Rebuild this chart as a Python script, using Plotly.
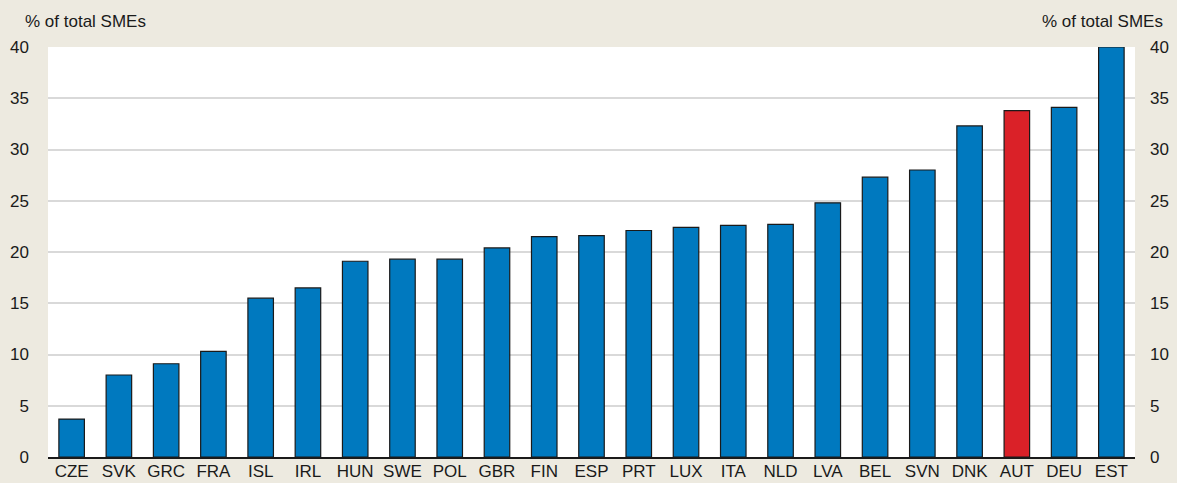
import plotly.graph_objects as go

countries = ["CZE", "SVK", "GRC", "FRA", "ISL", "IRL", "HUN", "SWE", "POL", "GBR", "FIN", "ESP",
             "PRT", "LUX", "ITA", "NLD", "LVA", "BEL", "SVN", "DNK", "AUT", "DEU", "EST"]
values = [3.7, 8.0, 9.1, 10.3, 15.5, 16.5, 19.1, 19.3, 19.3, 20.4, 21.5, 21.6,
          22.1, 22.4, 22.6, 22.7, 24.8, 27.3, 28.0, 32.3, 33.8, 34.1, 40.0]
highlight = "AUT"
y_ticks = [0, 5, 10, 15, 20, 25, 30, 35, 40]
axis_title = "% of total SMEs"

BLUE = "#0079BF"
RED = "#DA2128"
BG = "#EDEAE0"
FONT = "Liberation Sans, Arial, sans-serif"

colors = [RED if c == highlight else BLUE for c in countries]

fig = go.Figure()
fig.add_trace(go.Bar(
    x=countries, y=values,
    marker=dict(color=colors, line=dict(color="#1a1a1a", width=1.2)),
    width=0.54,
    showlegend=False,
))
fig.add_trace(go.Bar(
    x=countries, y=values, yaxis="y2",
    marker=dict(color="rgba(0,0,0,0)", line=dict(width=0)),
    width=0.54, showlegend=False, hoverinfo="skip",
))

fig.update_layout(
    width=1177, height=483,
    paper_bgcolor=BG, plot_bgcolor="white",
    margin=dict(l=48, r=42, t=47, b=26),
    barmode="overlay",
    font=dict(family=FONT, size=17, color="#1a1a1a"),
    xaxis=dict(
        showgrid=False, showline=True, linecolor="#1a1a1a", linewidth=2,
        ticks="", tickfont=dict(size=17), range=[-0.5, len(countries) - 0.5],
        automargin=False, ticklabelstandoff=-2,
    ),
    yaxis=dict(
        range=[0, 40], tickvals=y_ticks, showgrid=True, gridcolor="#D9D9D9", gridwidth=1.5,
        zeroline=False, ticks="", tickfont=dict(size=17), ticklabelstandoff=18,
        automargin=False,
    ),
    yaxis2=dict(
        range=[0, 40], tickvals=y_ticks, overlaying="y", side="right", showgrid=False,
        zeroline=False, ticks="", tickfont=dict(size=17), ticklabelstandoff=14,
        automargin=False,
    ),
    annotations=[
        dict(text=axis_title, x=0, xref="paper", xanchor="left", xshift=-25,
             y=1, yref="paper", yanchor="bottom", yshift=14, showarrow=False,
             font=dict(size=17)),
        dict(text=axis_title, x=1, xref="paper", xanchor="right", xshift=30,
             y=1, yref="paper", yanchor="bottom", yshift=14, showarrow=False,
             font=dict(size=17)),
    ],
)

fig.write_html("out.html", post_script="document.body.style.margin='0';",
               config={"displayModeBar": False})
